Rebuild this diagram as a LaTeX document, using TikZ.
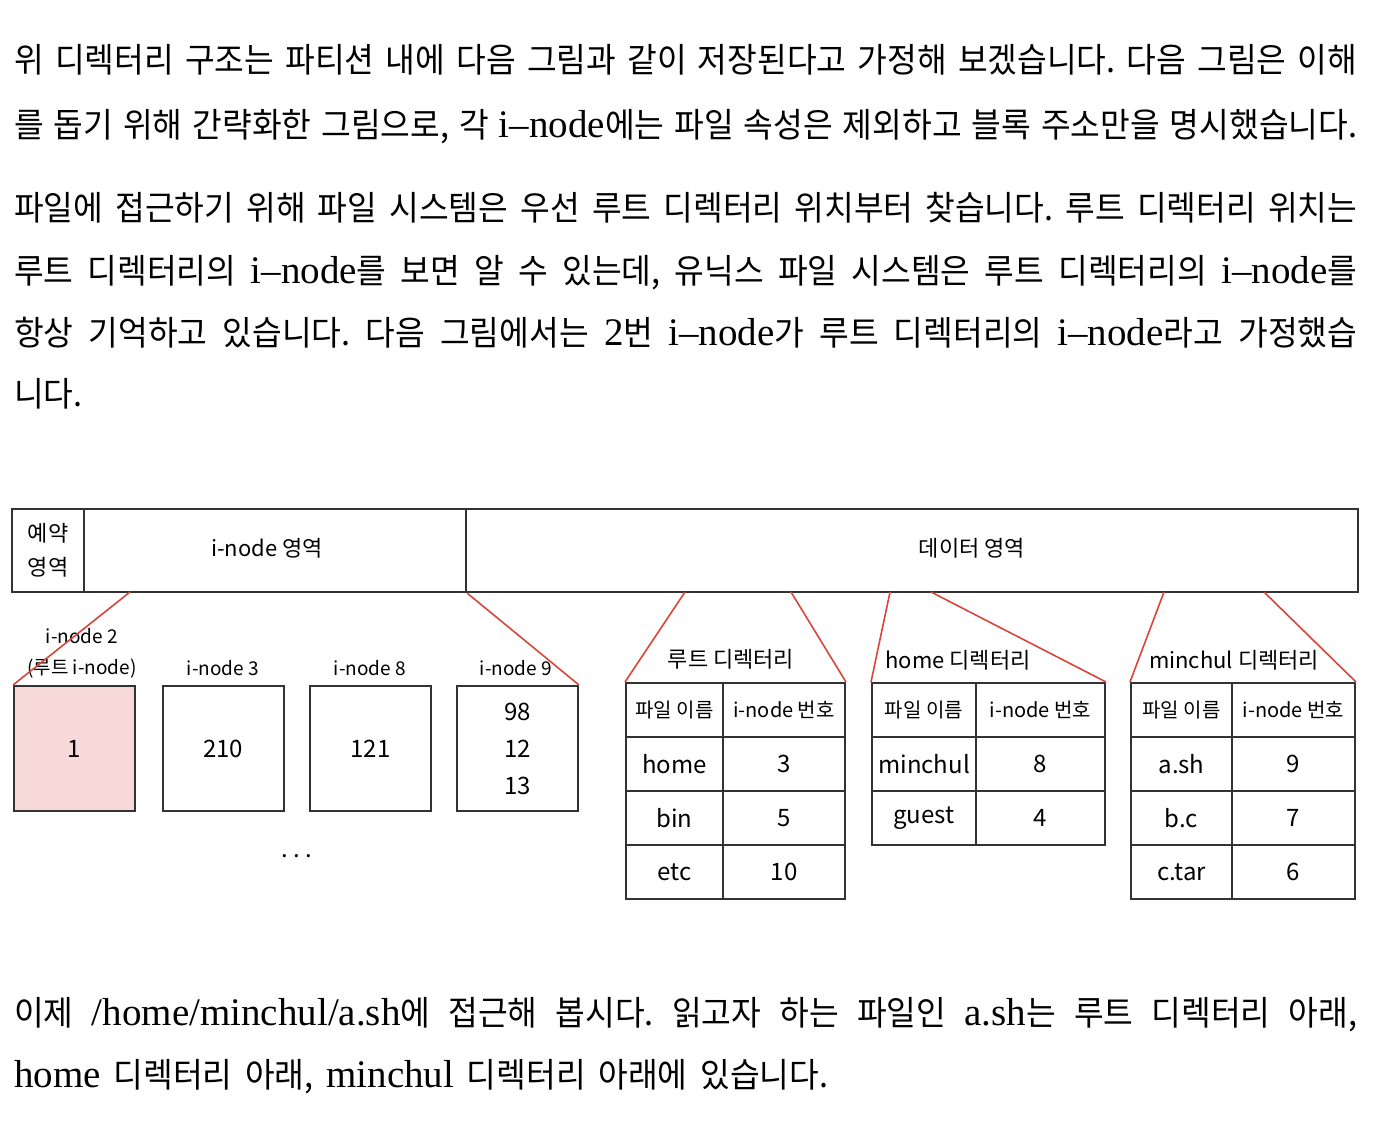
\documentclass[tikz,border=0pt]{standalone}
\usepackage{fontspec}
\setmainfont[FakeStretch=0.95,WordSpace=1.2]{Noto Sans CJK KR}
\newfontfamily\latfont{Liberation Serif}
\newfontfamily\hand{Noto Sans CJK KR}
\newcommand{\en}[1]{{\latfont\fontsize{39}{39}\selectfont #1}}
\frenchspacing

\definecolor{linegray}{HTML}{333333}
\definecolor{zoomred}{HTML}{D9453B}
\definecolor{rootpink}{HTML}{F7D9DA}

\tikzset{
  para/.style={anchor=base west, inner sep=0pt, font=\fontsize{34}{40}\selectfont},
  area/.style={draw=linegray, line width=2pt, minimum height=83pt, inner sep=0pt},
  areatag/.style={font=\hand\fontsize{22}{34}\selectfont, align=center, inner sep=0pt},
  block/.style={draw=linegray, line width=2pt, minimum width=121pt, minimum height=125pt,
    inner sep=0pt, align=center, font=\hand\fontsize{24}{37}\selectfont},
  blocktag/.style={font=\hand\fontsize{19}{31}\selectfont, align=center, inner sep=0pt},
  cell/.style={draw=linegray, line width=2pt, minimum height=54pt, inner sep=0pt,
    font=\hand\fontsize{24}{24}\selectfont},
  head/.style={cell, font=\hand\fontsize{20}{20}\selectfont},
  dirtag/.style={font=\hand\fontsize{22}{22}\selectfont, inner sep=0pt},
  zoom/.style={draw=zoomred, line width=1.6pt},
}

\begin{document}
\begin{tikzpicture}[x=1pt, y=-1pt]
    \useasboundingbox (0,0) rectangle (1392,1122);

    % text above
    \node[para] (p1) at (14,72) {\makebox[1343pt][s]{위 디렉터리 구조는 파티션 내에 다음 그림과 같이 저장된다고 가정해 보겠습니다. 다음 그림은 이해}};
    \node[para] (p2) at (14,137) {\makebox[1343pt][s]{를 돕기 위해 간략화한 그림으로, 각 \en{i–node}에는 파일 속성은 제외하고 블록 주소만을 명시했습니다.}};
    \node[para] (p3) at (14,220) {\makebox[1343pt][s]{파일에 접근하기 위해 파일 시스템은 우선 루트 디렉터리 위치부터 찾습니다. 루트 디렉터리 위치는}};
    \node[para] (p4) at (14,283) {\makebox[1343pt][s]{루트 디렉터리의 \en{i–node}를 보면 알 수 있는데, 유닉스 파일 시스템은 루트 디렉터리의 \en{i–node}를}};
    \node[para] (p5) at (14,345) {\makebox[1343pt][s]{항상 기억하고 있습니다. 다음 그림에서는 \en{2}번 \en{i–node}가 루트 디렉터리의 \en{i–node}라고 가정했습}};
    \node[para] (p6) at (14,406) {니다.};

    % partition bar
    \node[area, minimum width=72pt] (rsv) at (48,550.5) {};
    \node[area, minimum width=382pt] (iarea) at (275,550.5) {};
    \node[area, minimum width=892pt] (darea) at (912,550.5) {};
    \node[areatag] (rsvtxt) at (48,550) {예약\\영역};
    \node[areatag] (iareatxt) at (267,548) {i-node 영역};
    \node[areatag] (dareatxt) at (972,548) {데이터 영역};

    % i-node blocks
    \node[block, fill=rootpink] (in2) at (74.5,748.5) {1};
    \foreach \n/\x/\t in {3/223/210, 8/370.5/121}
        \node[block] (in\n) at (\x,748.5) {\t};
    \node[block] (in9) at (517.5,748.5) {98\\12\\13};
    \node[blocktag] (in2tag) at (82,653) {i-node 2\\(루트 i-node)};
    \node[blocktag] (in3tag) at (223,668) {i-node 3};
    \node[blocktag] (in8tag) at (370,668) {i-node 8};
    \node[blocktag] (in9tag) at (516,668) {i-node 9};
    \node[font=\hand\fontsize{24}{24}\selectfont] (more) at (297,856) {. . .};

    % root directory
    \node[head, minimum width=97pt] (rt-h1) at (674.5,710) {파일 이름};
    \node[head, minimum width=122pt] (rt-h2) at (784,710) {i-node 번호};
    \foreach \f/\b [count=\i] in {home/3, bin/5, etc/10} {
        \node[cell, minimum width=97pt] (rt-f\i) at (674.5,710+54*\i) {\f};
        \node[cell, minimum width=122pt] (rt-b\i) at (784,710+54*\i) {\b};
    }
    \node[dirtag] (rt-tag) at (731,659) {루트 디렉터리};

    % home directory
    \node[head, minimum width=104pt] (ht-h1) at (924,710) {파일 이름};
    \node[head, minimum width=129pt] (ht-h2) at (1040.5,710) {i-node 번호};
    \foreach \f/\b [count=\i] in {minchul/8, guest/4} {
        \node[cell, minimum width=104pt] (ht-f\i) at (924,710+54*\i) {\f};
        \node[cell, minimum width=129pt] (ht-b\i) at (1040.5,710+54*\i) {\b};
    }
    \node[dirtag] (ht-tag) at (958,660) {home 디렉터리};

    % minchul directory
    \node[head, minimum width=101pt] (mt-h1) at (1181.5,710) {파일 이름};
    \node[head, minimum width=123pt] (mt-h2) at (1293.5,710) {i-node 번호};
    \foreach \f/\b [count=\i] in {a.sh/9, b.c/7, c.tar/6} {
        \node[cell, minimum width=101pt] (mt-f\i) at (1181.5,710+54*\i) {\f};
        \node[cell, minimum width=123pt] (mt-b\i) at (1293.5,710+54*\i) {\b};
    }
    \node[dirtag] (mt-tag) at (1234,660) {minchul 디렉터리};

    % red zoom lines
    \coordinate (z-in) at (130,592);
    \coordinate (z-rt1) at (685,592);
    \coordinate (z-rt2) at (791,592);
    \coordinate (z-ht1) at (890,592);
    \coordinate (z-ht2) at (931,592);
    \coordinate (z-mt1) at (1164,592);
    \coordinate (z-mt2) at (1264,592);
    \draw[zoom] (z-in) -- (in2.north west);
    \draw[zoom] (iarea.south east) -- (in9.north east);
    \draw[zoom] (z-rt1) -- (rt-h1.north west);
    \draw[zoom] (z-rt2) -- (rt-h2.north east);
    \draw[zoom] (z-ht1) -- (ht-h1.north west);
    \draw[zoom] (z-ht2) -- (ht-h2.north east);
    \draw[zoom] (z-mt1) -- (mt-h1.north west);
    \draw[zoom] (z-mt2) -- (mt-h2.north east);

    % text below
    \node[para] (p7) at (14,1025) {\makebox[1343pt][s]{이제 \en{/home/minchul/a.sh}에 접근해 봅시다. 읽고자 하는 파일인 \en{a.sh}는 루트 디렉터리 아래,}};
    \node[para] (p8) at (14,1087) {\makebox[814pt][s]{\en{home} 디렉터리 아래, \en{minchul} 디렉터리 아래에 있습니다.}};
\end{tikzpicture}
\end{document}
